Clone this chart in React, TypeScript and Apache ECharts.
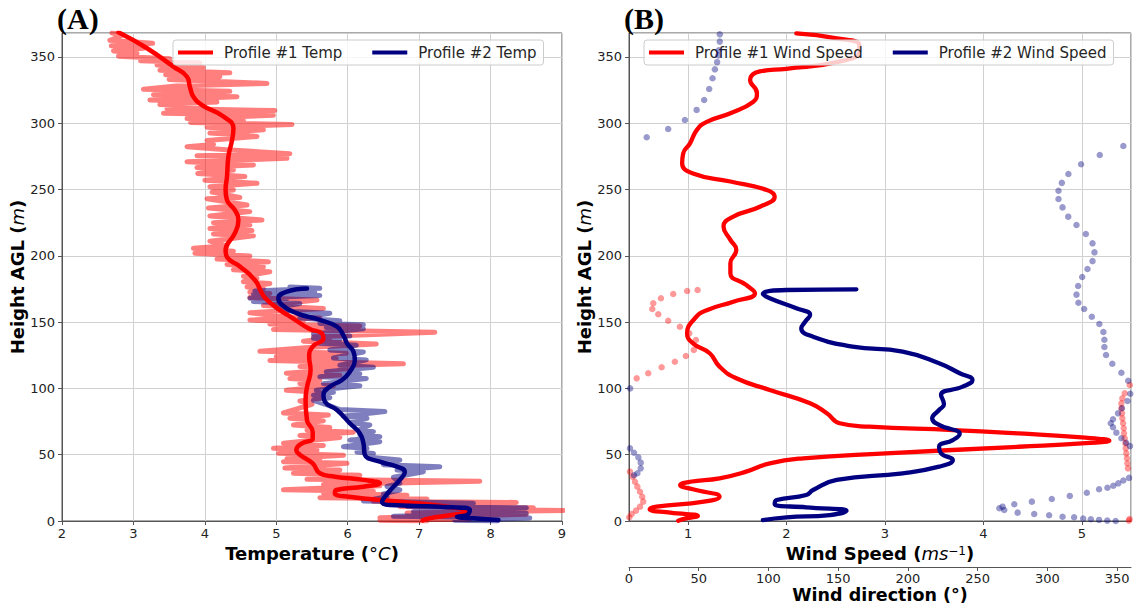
import React, { useEffect, useRef } from "react";
import * as echarts from "echarts";

// ---------------- data (temperature in °C, height in m) ----------------
const p1TempRaw: number[][] = [
  [2.70, 368.0], [2.86, 366.5], [2.67, 362.5], [3.27, 360.2], [2.69, 358.3], [3.14, 356.5],
  [2.72, 354.5], [3.05, 352.7], [2.79, 350.5], [3.51, 348.5], [3.10, 347.0], [3.93, 345.5],
  [3.33, 343.9], [3.98, 342.0], [3.37, 340.0], [4.35, 338.0], [3.45, 336.5], [4.21, 335.0],
  [3.50, 333.0], [4.87, 330.0], [3.60, 328.0], [3.14, 325.5], [4.35, 324.0], [3.28, 321.5],
  [4.45, 320.0], [3.23, 317.5], [4.17, 316.0], [3.37, 314.0], [3.90, 312.5], [3.47, 311.0],
  [4.98, 309.5], [3.42, 307.5], [4.96, 306.0], [3.75, 303.5], [4.54, 302.0], [3.80, 300.5],
  [5.22, 299.0], [4.03, 297.0], [4.82, 295.0], [4.07, 292.5], [4.73, 290.0], [4.03, 287.0],
  [4.12, 284.0], [3.75, 282.3], [4.30, 280.0], [5.19, 277.0], [3.89, 275.5], [5.15, 273.5],
  [3.75, 271.0], [4.68, 268.5], [3.89, 266.5], [4.40, 264.7], [3.90, 262.0], [4.56, 259.7],
  [4.00, 257.0], [4.73, 254.7], [4.07, 252.0], [4.40, 249.6], [4.10, 248.0], [4.49, 244.0],
  [4.03, 243.0], [4.59, 238.3], [4.05, 236.0], [4.63, 233.3], [4.07, 230.0], [4.80, 227.0],
  [4.12, 225.0], [4.63, 223.2], [4.07, 220.5], [4.66, 219.0], [4.12, 216.5], [4.68, 215.0],
  [4.07, 211.0], [4.31, 207.5], [3.84, 205.6], [4.40, 203.5], [3.86, 202.0], [4.63, 199.8],
  [4.17, 197.5], [4.89, 195.5], [4.31, 193.5], [4.82, 191.7], [4.40, 189.5], [4.91, 187.9],
  [4.54, 184.5], [4.73, 182.9], [4.54, 180.5], [4.91, 179.1], [4.59, 176.5], [4.82, 175.4],
  [4.63, 172.5], [4.91, 171.6], [4.63, 168.5], [5.57, 166.6], [4.82, 162.5], [5.66, 160.3],
  [4.63, 157.0], [5.10, 154.0], [5.61, 153.0], [4.63, 151.6], [5.38, 150.0], [4.91, 148.5],
  [6.17, 147.0], [4.96, 144.5], [7.22, 142.3], [5.52, 139.0], [5.75, 137.8], [5.38, 135.5],
  [6.40, 133.5], [5.50, 131.0], [4.77, 128.0], [5.98, 126.5], [5.00, 124.0], [5.84, 122.5],
  [4.91, 121.0], [6.78, 118.5], [5.33, 116.5], [6.03, 115.0], [5.14, 111.5], [5.89, 110.0],
  [5.19, 107.4], [5.61, 106.0], [5.33, 103.6], [5.80, 102.0], [5.14, 98.6], [5.61, 97.0],
  [5.42, 94.9], [5.66, 93.0], [5.33, 90.5], [5.50, 88.0], [5.10, 81.5], [5.73, 80.0],
  [5.19, 77.4], [5.66, 75.5], [5.24, 72.4], [5.75, 70.5], [5.43, 68.5], [6.08, 67.0],
  [5.33, 64.5], [5.89, 63.0], [5.10, 58.6], [5.66, 57.0], [4.96, 54.8], [5.57, 53.5],
  [5.03, 51.0], [5.94, 49.5], [5.15, 47.2], [5.61, 46.0], [5.10, 44.7], [5.99, 43.5],
  [5.12, 40.0], [5.89, 38.5], [5.24, 36.0], [6.17, 34.5], [5.43, 31.5], [7.85, 30.0],
  [5.66, 27.5], [6.45, 26.5], [5.10, 23.5], [6.36, 22.5], [5.66, 21.0], [6.83, 19.5],
  [5.61, 17.5], [7.11, 16.5], [6.36, 14.8], [8.36, 14.0], [6.73, 11.0], [8.60, 10.0],
  [7.39, 8.9], [9.02, 8.0], [6.83, 6.0], [8.50, 5.0], [6.45, 2.5], [7.71, 1.5],
  [6.45, 0.5], [7.11, 0.0],
];

const p2TempRaw: number[][] = [
  [5.19, 176.5], [5.61, 175.5], [4.70, 173.5], [5.54, 172.5], [4.68, 171.0], [5.61, 170.0],
  [4.63, 168.0], [5.14, 167.0], [4.68, 165.5], [5.33, 164.0], [5.00, 161.0], [5.24, 158.0],
  [5.75, 156.6], [5.33, 153.0], [5.89, 151.0], [5.61, 149.0], [6.22, 148.0], [5.70, 146.0],
  [6.22, 145.0], [5.52, 141.0], [6.03, 139.5], [5.52, 137.8], [5.89, 136.5], [5.61, 134.0],
  [6.12, 132.5], [5.75, 129.0], [6.22, 127.5], [5.80, 123.0], [6.26, 121.5], [5.89, 117.5],
  [6.36, 116.0], [5.70, 112.6], [6.17, 111.0], [5.61, 108.8], [6.26, 107.5], [5.66, 103.6],
  [6.17, 102.0], [5.56, 98.6], [5.80, 97.0], [5.52, 94.9], [5.75, 93.0], [5.52, 91.0],
  [5.71, 87.5], [5.89, 84.0], [6.52, 82.5], [5.94, 79.0], [6.27, 77.4], [6.03, 74.0],
  [6.31, 72.4], [6.17, 69.0], [6.36, 67.4], [6.17, 65.0], [6.45, 63.6], [6.03, 61.0],
  [6.45, 59.8], [5.94, 56.0], [6.27, 54.8], [6.13, 52.0], [6.36, 50.9], [6.31, 48.0],
  [6.73, 46.0], [6.50, 42.5], [7.29, 40.9], [6.69, 38.5], [7.06, 37.2], [6.64, 33.0],
  [6.73, 28.4], [6.55, 26.0], [6.73, 23.4], [6.50, 20.5], [6.55, 18.4], [6.22, 15.0],
  [7.76, 13.4], [6.83, 11.0], [8.50, 9.9], [6.92, 7.0], [8.50, 5.9], [6.64, 3.5],
  [8.55, 2.2], [7.50, 0.5], [8.10, 0.0],
];

const p1TempSmooth: number[][] = [
  [2.79, 368.5], [3.19, 356.5], [3.56, 342.6], [3.75, 335.0], [3.79, 327.5], [3.84, 320.0],
  [3.96, 313.7], [4.26, 305.0], [4.40, 296.0], [4.38, 287.0], [4.33, 275.0], [4.31, 259.7],
  [4.29, 249.6], [4.31, 242.0], [4.42, 234.5], [4.47, 227.0], [4.42, 217.0], [4.29, 204.0],
  [4.31, 199.0], [4.49, 192.0], [4.70, 181.7], [4.80, 171.7], [4.87, 166.7], [5.05, 159.0],
  [5.20, 154.0], [5.46, 145.0], [5.64, 141.5], [5.66, 137.8], [5.51, 131.5], [5.46, 124.0],
  [5.48, 114.0], [5.43, 101.0], [5.41, 91.0], [5.43, 76.0], [5.51, 67.0], [5.51, 62.0],
  [5.36, 58.6], [5.28, 53.5], [5.33, 50.0], [5.51, 43.5], [5.61, 36.0], [5.82, 33.4],
  [6.22, 31.0], [6.45, 28.4], [6.22, 25.9], [5.84, 23.4], [5.82, 20.9], [6.02, 18.3],
  [6.73, 14.6], [7.39, 10.8], [7.70, 7.0], [7.45, 4.5], [7.14, 2.0], [7.05, 0.5],
];

const p2TempSmooth: number[][] = [
  [5.43, 175.4], [5.15, 173.0], [5.03, 168.0], [5.08, 163.0], [5.29, 156.6], [5.61, 151.6],
  [5.85, 146.5], [5.94, 140.0], [5.99, 134.0], [6.08, 127.7], [6.10, 121.4], [6.03, 112.6],
  [5.92, 106.3], [5.75, 101.3], [5.66, 95.0], [5.68, 90.0], [5.85, 83.7], [6.03, 73.7],
  [6.17, 66.0], [6.22, 58.6], [6.24, 50.0], [6.45, 44.7], [6.69, 41.0], [6.80, 37.0],
  [6.73, 31.0], [6.62, 24.6], [6.52, 18.3], [6.48, 14.6], [6.59, 12.0], [7.29, 10.8],
  [7.71, 8.3], [7.67, 4.5], [7.53, 3.2], [7.76, 2.0], [8.11, 0.75],
];

// wind speed (m/s), height (m)
const p1WindSpeed: number[][] = [
  [2.10, 367.7], [2.51, 364.0], [2.74, 359.0], [2.74, 354.0], [2.51, 346.0], [2.00, 341.0],
  [1.73, 339.0], [1.63, 332.6], [1.70, 322.5], [1.66, 316.0], [1.43, 307.5], [1.19, 301.0],
  [1.09, 295.0], [1.02, 284.8], [0.95, 277.0], [0.94, 269.8], [1.05, 262.0], [1.43, 256.0],
  [1.80, 249.6], [1.88, 244.6], [1.73, 237.0], [1.46, 229.5], [1.36, 222.0], [1.43, 212.0],
  [1.49, 204.4], [1.43, 194.3], [1.43, 186.8], [1.59, 178.0], [1.68, 171.7], [1.46, 165.4],
  [1.19, 159.0], [1.07, 152.9], [0.99, 141.5], [1.05, 134.0], [1.22, 126.5], [1.32, 116.4],
  [1.49, 107.6], [1.83, 98.8], [2.24, 88.8], [2.41, 81.2], [2.54, 73.7], [2.84, 71.1],
  [3.69, 68.6], [4.36, 66.0], [5.00, 63.0], [5.28, 60.6], [5.00, 58.5], [4.36, 56.0],
  [3.01, 51.0], [2.17, 47.3], [1.83, 43.5], [1.59, 37.2], [1.32, 32.2], [1.02, 29.6],
  [0.92, 27.1], [1.05, 23.9], [1.32, 18.3], [1.16, 14.6], [0.68, 10.8], [0.61, 8.8],
  [0.82, 6.3], [1.10, 3.8], [0.98, 2.0], [0.90, 0.2],
];

const p2WindSpeed: number[][] = [
  [2.71, 174.7], [2.00, 174.2], [1.76, 171.2], [1.83, 168.0], [2.10, 160.4], [2.24, 155.4],
  [2.19, 150.3], [2.15, 145.3], [2.27, 139.0], [2.67, 131.5], [3.18, 127.7], [3.55, 118.9],
  [3.76, 111.4], [3.89, 106.3], [3.79, 101.3], [3.57, 95.0], [3.60, 88.0], [3.55, 83.7],
  [3.48, 77.4], [3.55, 72.4], [3.76, 65.6], [3.69, 61.0], [3.55, 56.0], [3.57, 51.0],
  [3.69, 46.0], [3.55, 41.0], [3.18, 36.0], [2.51, 31.0], [2.27, 23.4], [2.20, 19.6],
  [1.90, 15.8], [1.88, 12.8], [2.20, 10.3], [2.61, 7.8], [2.44, 4.5], [2.00, 2.8],
  [1.76, 0.75],
];

// wind direction (degrees), height (m)
const p1WindDir: number[][] = [
  [49.2, 174.2], [41.7, 173.4], [31.7, 171.2], [22.9, 168.0], [17.4, 164.2], [16.7, 159.9],
  [21.0, 155.9], [28.1, 151.0], [36.5, 146.5], [43.2, 141.5], [48.0, 136.5], [46.5, 129.0],
  [40.8, 124.4], [32.9, 120.1], [23.4, 115.9], [13.8, 111.4], [5.5, 107.6], [359.1, 102.6],
  [355.5, 96.3], [353.8, 92.5], [353.1, 88.7], [353.1, 85.0], [353.6, 81.2], [353.8, 77.4],
  [354.3, 73.7], [354.8, 69.9], [355.0, 66.1], [355.5, 62.4], [356.0, 58.6], [356.2, 54.8],
  [356.6, 51.0], [357.1, 47.3], [357.4, 43.5], [357.8, 39.7], [0.7, 37.2], [2.6, 33.4],
  [4.3, 29.6], [6.0, 25.9], [7.9, 22.1], [9.5, 18.3], [10.2, 14.6], [7.9, 10.8],
  [5.0, 7.8], [1.9, 5.3], [0.2, 2.8], [359.0, 1.5], [358.5, 0.3],
];

const p2WindDir: number[][] = [
  [65.1, 367.0], [65.1, 361.5], [64.4, 355.0], [64.0, 351.0], [63.2, 346.0], [61.6, 340.6],
  [59.9, 333.9], [57.5, 325.8], [53.9, 317.5], [48.5, 310.0], [40.1, 302.4], [28.1, 295.6],
  [12.7, 289.4], [354.5, 282.8], [337.6, 276.0], [324.2, 269.0], [315.1, 261.7], [310.4, 255.0],
  [308.0, 249.0], [308.0, 242.8], [310.9, 236.5], [315.0, 229.5], [320.9, 223.2], [327.6, 216.4],
  [332.4, 209.4], [333.8, 202.6], [332.4, 196.0], [328.8, 190.0], [325.0, 184.0], [322.1, 177.2],
  [320.9, 170.7], [322.3, 164.6], [326.4, 159.9], [331.9, 154.0], [337.3, 148.6], [340.2, 142.5],
  [340.9, 136.7], [340.9, 131.2], [342.1, 125.2], [346.6, 118.6], [353.1, 111.8], [358.0, 105.8],
  [0.8, 100.0], [359.5, 96.0], [357.5, 90.5], [353.5, 85.0], [350.7, 81.2], [347.1, 76.7],
  [345.5, 73.7], [347.1, 70.7], [349.5, 66.6], [353.1, 62.4], [356.5, 59.0], [359.3, 56.5],
  [0.7, 54.8], [3.6, 51.5], [6.7, 48.0], [8.4, 44.0], [8.4, 39.7], [6.0, 36.0],
  [3.6, 34.5], [358.6, 32.5], [354.5, 30.5], [350.9, 28.4], [347.3, 26.6], [343.1, 25.1],
  [337.1, 23.9], [328.3, 21.3], [316.1, 18.9], [303.2, 16.6], [288.9, 14.6], [276.3, 12.6],
  [267.9, 10.8], [265.6, 9.6], [269.1, 8.3], [278.7, 6.3], [290.6, 5.3], [301.3, 4.3],
  [310.9, 3.2], [319.2, 2.8], [325.7, 1.8], [331.2, 1.3], [337.1, 0.8], [343.0, 0.3],
  [349.0, 0.0],
];

const legendTemp = ["Profile #1 Temp", "Profile #2 Temp"];
const legendWind = ["Profile #1 Wind Speed", "Profile #2 Wind Speed"];

// ---------------- styling ----------------
const FONT = '"DejaVu Sans", sans-serif';
const RED = "#ff0000";
const NAVY = "#000080";
const RED_A = "rgba(255,0,0,0.5)";
const NAVY_A = "rgba(0,0,128,0.5)";
const GRID_C = "#d0d0d0";
const AXIS_C = "#555555";

const axisTitleStyle = {
  fontSize: 18,
  fontWeight: "bold" as const,
  color: "#000",
  fontFamily: FONT,
  rich: {
    i: { fontSize: 18, fontStyle: "italic", fontWeight: "normal", color: "#000", fontFamily: FONT },
    s: { fontSize: 12, fontWeight: "normal", color: "#000", fontFamily: FONT, verticalAlign: "top" },
  },
};

const baseAxis = {
  type: "value" as const,
  axisLine: { show: true, onZero: false, lineStyle: { color: AXIS_C, width: 1 } },
  axisTick: { show: true, length: 4, lineStyle: { color: AXIS_C } },
  axisLabel: { fontSize: 13, color: "#222", fontFamily: FONT, margin: 6 },
  splitLine: { show: true, lineStyle: { color: GRID_C, width: 1 } },
  nameTextStyle: axisTitleStyle,
};

function legendCfg(data: string[], left: number) {
  return {
    data,
    left,
    top: 40,
    orient: "horizontal",
    icon: "rect",
    itemWidth: 35,
    itemHeight: 4,
    itemGap: 30,
    padding: [5, 7, 5, 5],
    backgroundColor: "rgba(255,255,255,0.8)",
    borderColor: "#cccccc",
    borderWidth: 1,
    borderRadius: 3,
    textStyle: { fontSize: 15, color: "#262626", fontFamily: FONT, padding: [0, 0, 0, 6] },
  };
}

export default function App() {
  const ref = useRef<HTMLDivElement>(null);

  useEffect(() => {
    if (!ref.current) return;
    const chart = echarts.init(ref.current, null, { renderer: "svg" });

    const option: any = {
      animation: false,
      backgroundColor: "#ffffff",
      textStyle: { fontFamily: FONT },
      graphic: [
        {
          type: "text", left: 57, top: 3,
          style: { text: "(A)", font: 'bold 30px "Liberation Serif", serif', fill: "#000" },
          z: 10,
        },
        {
          type: "text", left: 624, top: 3,
          style: { text: "(B)", font: 'bold 30px "Liberation Serif", serif', fill: "#000" },
          z: 10,
        },
      ],
      legend: [legendCfg(legendTemp, 173), legendCfg(legendWind, 644)],
      grid: [
        {
          left: 62, top: 33, width: 500, height: 488, show: true, borderColor: AXIS_C, borderWidth: 1,
          backgroundColor: "transparent", containLabel: false, outerBoundsMode: "none",
        },
        {
          left: 629, top: 33, width: 502, height: 488, show: true, borderColor: AXIS_C, borderWidth: 1,
          backgroundColor: "transparent", containLabel: false, outerBoundsMode: "none",
        },
      ],
      xAxis: [
        {
          ...baseAxis,
          gridIndex: 0, min: 2, max: 9, interval: 1, position: "bottom",
          name: "Temperature ({i|°C})", nameLocation: "middle", nameGap: 21,
        },
        {
          ...baseAxis,
          gridIndex: 1, min: 0.4, max: 5.5, splitNumber: 5, position: "bottom",
          axisLabel: { ...baseAxis.axisLabel, showMinLabel: false, showMaxLabel: false },
          name: "Wind Speed ({i|ms}{s|−1})", nameLocation: "middle", nameGap: 23,
        },
        {
          ...baseAxis,
          gridIndex: 1, min: 0, max: 360, interval: 50, position: "bottom", offset: 46,
          splitLine: { show: false },
          axisLabel: { ...baseAxis.axisLabel, showMaxLabel: false, margin: 5 },
          name: "Wind direction (°)", nameLocation: "middle", nameGap: 19, nameMoveOverlap: false,
          nameTextStyle: { ...axisTitleStyle, fontSize: 17.5 },
        },
      ],
      yAxis: [
        {
          ...baseAxis,
          gridIndex: 0, min: 0, max: 368, interval: 50,
          axisLabel: { ...baseAxis.axisLabel, showMaxLabel: false, margin: 7 },
          name: "Height AGL ({i|m})", nameLocation: "middle", nameGap: 36, nameRotate: 90,
        },
        {
          ...baseAxis,
          gridIndex: 1, min: 0, max: 368, interval: 50,
          axisLabel: { ...baseAxis.axisLabel, showMaxLabel: false, margin: 7 },
          name: "Height AGL ({i|m})", nameLocation: "middle", nameGap: 36, nameRotate: 90,
        },
      ],
      series: [
        {
          type: "line", name: "p1raw", xAxisIndex: 0, yAxisIndex: 0, data: p1TempRaw,
          symbol: "none", showSymbol: false, silent: true, color: RED_A,
          lineStyle: { color: RED_A, width: 5, join: "round", cap: "round" },
        },
        {
          type: "line", name: "p2raw", xAxisIndex: 0, yAxisIndex: 0, data: p2TempRaw,
          symbol: "none", showSymbol: false, silent: true, color: NAVY_A,
          lineStyle: { color: NAVY_A, width: 5, join: "round", cap: "round" },
        },
        {
          type: "line", name: legendTemp[0], xAxisIndex: 0, yAxisIndex: 0, data: p1TempSmooth,
          symbol: "none", showSymbol: false, smooth: 0.5, color: RED,
          lineStyle: { color: RED, width: 4.5, cap: "round", join: "round" },
        },
        {
          type: "line", name: legendTemp[1], xAxisIndex: 0, yAxisIndex: 0, data: p2TempSmooth,
          symbol: "none", showSymbol: false, smooth: 0.5, color: NAVY,
          lineStyle: { color: NAVY, width: 4.5, cap: "round", join: "round" },
        },
        {
          type: "line", name: legendWind[0], xAxisIndex: 1, yAxisIndex: 1, data: p1WindSpeed,
          symbol: "none", showSymbol: false, smooth: 0.5, color: RED,
          lineStyle: { color: RED, width: 4.3, cap: "round", join: "round" },
        },
        {
          type: "line", name: legendWind[1], xAxisIndex: 1, yAxisIndex: 1, data: p2WindSpeed,
          symbol: "none", showSymbol: false, smooth: 0.5, color: NAVY,
          lineStyle: { color: NAVY, width: 4.3, cap: "round", join: "round" },
        },
        {
          type: "scatter", name: "p1dir", xAxisIndex: 2, yAxisIndex: 1, data: p1WindDir,
          symbol: "circle", symbolSize: 6.5, z: 6, silent: true,
          itemStyle: { color: RED_A },
        },
        {
          type: "scatter", name: "p2dir", xAxisIndex: 2, yAxisIndex: 1, data: p2WindDir,
          symbol: "circle", symbolSize: 6.5, z: 6, silent: true,
          itemStyle: { color: NAVY_A },
        },
      ],
    };

    chart.setOption(option);
    return () => {
      chart.dispose();
    };
  }, []);

  return (
    <div
      ref={ref}
      style={{ position: "absolute", left: 0, top: 0, width: 1134, height: 606, background: "#fff" }}
    />
  );
}
